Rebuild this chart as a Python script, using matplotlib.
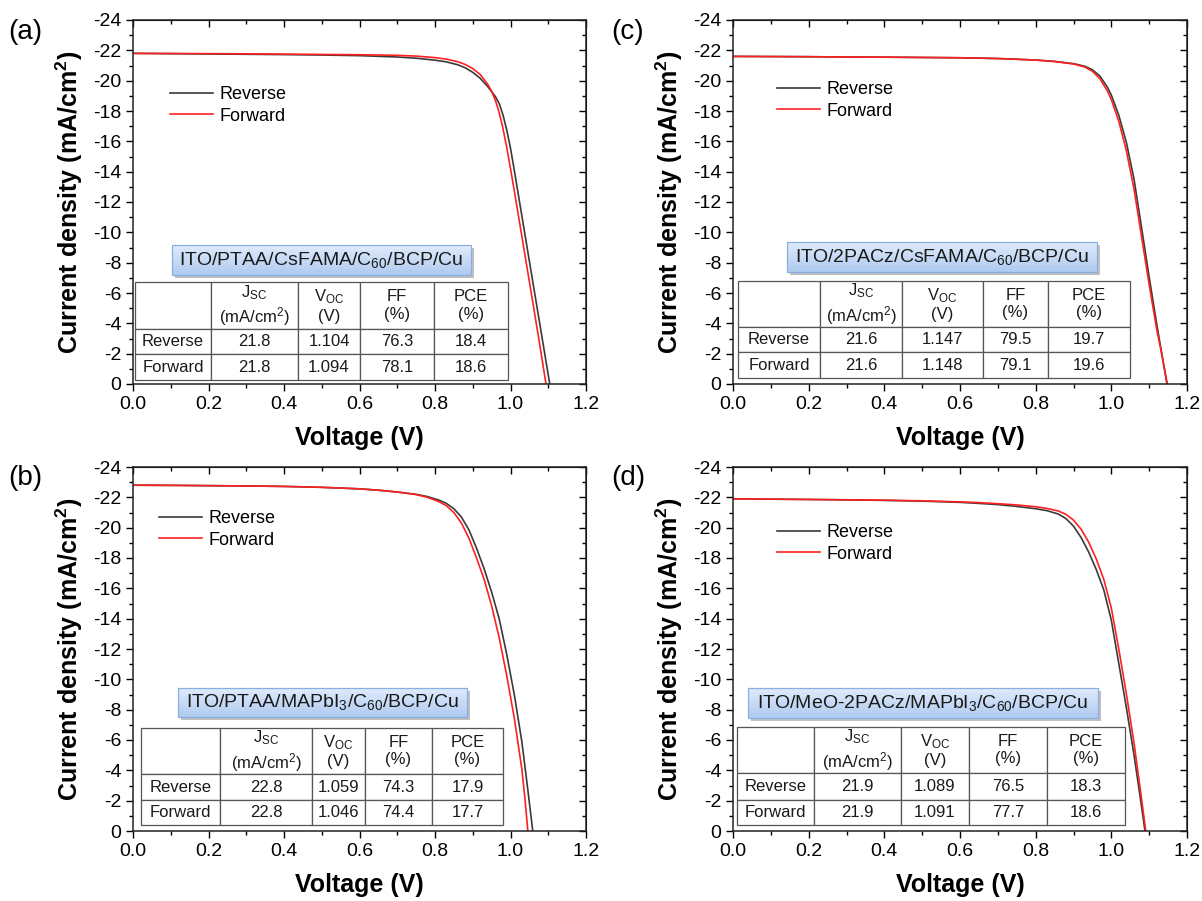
import matplotlib
matplotlib.use('Agg')
import matplotlib.pyplot as plt
import matplotlib.patheffects as pe
from matplotlib.patches import Rectangle
from matplotlib.ticker import MultipleLocator
from matplotlib.colors import to_rgb

plt.rcParams['font.family'] = ['Liberation Sans', 'DejaVu Sans']
plt.rcParams['mathtext.default'] = 'regular'
plt.rcParams['axes.unicode_minus'] = False

# ---- data (V in volts, J in mA/cm2) ----
# (a) ITO/PTAA/CsFAMA
v_a_rev = [0, 0.1, 0.2, 0.3, 0.4, 0.5, 0.6, 0.7, 0.75, 0.8, 0.83, 0.86, 0.88, 0.9, 0.92, 0.94,
           0.96, 0.97, 0.98, 0.99, 1.0, 1.01, 1.02, 1.04, 1.06, 1.08, 1.09, 1.104]
j_a_rev = [-21.8, -21.78, -21.76, -21.74, -21.72, -21.69, -21.65, -21.56, -21.48, -21.35, -21.24,
           -21.05, -20.85, -20.55, -20.15, -19.6, -18.95, -18.5, -17.75, -16.75, -15.55, -14.1,
           -12.6, -9.6, -6.6, -3.6, -2.1, 0]
v_a_fwd = [0, 0.1, 0.2, 0.3, 0.4, 0.5, 0.6, 0.7, 0.75, 0.8, 0.83, 0.86, 0.88, 0.9, 0.92, 0.94,
           0.95, 0.96, 0.97, 0.98, 0.99, 1.0, 1.01, 1.02, 1.04, 1.06, 1.08, 1.094]
j_a_fwd = [-21.8, -21.79, -21.78, -21.77, -21.75, -21.73, -21.71, -21.67, -21.62, -21.52, -21.42,
           -21.25, -21.07, -20.8, -20.4, -19.75, -19.3, -18.7, -17.9, -16.85, -15.6, -14.2,
           -12.75, -11.25, -8.25, -5.25, -2.2, 0]

# (b) ITO/PTAA/MAPbI3
v_b_rev = [0, 0.1, 0.2, 0.3, 0.4, 0.5, 0.6, 0.65, 0.7, 0.75, 0.78, 0.81, 0.83, 0.85, 0.87, 0.89,
           0.91, 0.93, 0.95, 0.97, 0.99, 1.01, 1.03, 1.045, 1.059]
j_b_rev = [-22.8, -22.79, -22.77, -22.75, -22.72, -22.66, -22.56, -22.47, -22.35, -22.2, -22.05,
           -21.82, -21.6, -21.25, -20.7, -19.85, -18.65, -17.3, -15.75, -14.0, -11.65, -9.0,
           -5.9, -2.9, 0]
v_b_fwd = [0, 0.1, 0.2, 0.3, 0.4, 0.5, 0.6, 0.65, 0.7, 0.75, 0.78, 0.81, 0.83, 0.85, 0.87, 0.89,
           0.91, 0.93, 0.95, 0.97, 0.99, 1.01, 1.03, 1.038, 1.046]
j_b_fwd = [-22.8, -22.79, -22.77, -22.75, -22.72, -22.66, -22.56, -22.47, -22.35, -22.18, -22.0,
           -21.72, -21.45, -21.0, -20.3, -19.3, -18.0, -16.6, -14.85, -12.75, -10.25, -7.45,
           -4.1, -2.2, 0]

# (c) ITO/2PACz/CsFAMA
v_c_rev = [0, 0.1, 0.2, 0.3, 0.4, 0.5, 0.6, 0.7, 0.8, 0.85, 0.9, 0.93, 0.95, 0.97, 0.99, 1.0,
           1.02, 1.04, 1.06, 1.08, 1.1, 1.12, 1.147]
j_c_rev = [-21.6, -21.59, -21.58, -21.56, -21.55, -21.53, -21.51, -21.46, -21.36, -21.27, -21.12,
           -20.95, -20.72, -20.3, -19.55, -19.05, -17.7, -15.9, -13.5, -10.3, -7.05, -3.95, 0]
v_c_fwd = [0, 0.1, 0.2, 0.3, 0.4, 0.5, 0.6, 0.7, 0.8, 0.85, 0.9, 0.93, 0.95, 0.97, 0.99, 1.0,
           1.02, 1.04, 1.06, 1.08, 1.1, 1.12, 1.135, 1.148]
j_c_fwd = [-21.6, -21.59, -21.58, -21.56, -21.55, -21.53, -21.51, -21.46, -21.36, -21.26, -21.1,
           -20.9, -20.62, -20.12, -19.3, -18.75, -17.3, -15.35, -12.85, -9.7, -6.55, -3.6, -1.75, 0]

# (d) ITO/MeO-2PACz/MAPbI3
v_d_rev = [0, 0.1, 0.2, 0.3, 0.4, 0.5, 0.6, 0.65, 0.7, 0.75, 0.8, 0.83, 0.86, 0.88, 0.9, 0.92,
           0.94, 0.96, 0.98, 1.0, 1.02, 1.04, 1.06, 1.075, 1.089]
j_d_rev = [-21.9, -21.88, -21.86, -21.83, -21.8, -21.75, -21.67, -21.6, -21.52, -21.4, -21.25,
           -21.12, -20.9, -20.6, -20.1, -19.35, -18.4, -17.25, -15.9, -13.9, -11.0, -8.1, -5.0,
           -2.45, 0]
v_d_fwd = [0, 0.1, 0.2, 0.3, 0.4, 0.5, 0.6, 0.65, 0.7, 0.75, 0.8, 0.83, 0.86, 0.88, 0.9, 0.92,
           0.94, 0.96, 0.98, 1.0, 1.02, 1.04, 1.06, 1.08, 1.091]
j_d_fwd = [-21.9, -21.88, -21.86, -21.84, -21.81, -21.77, -21.7, -21.65, -21.58, -21.5, -21.38,
           -21.27, -21.1, -20.88, -20.5, -19.9, -19.05, -17.95, -16.6, -14.7, -11.95, -9.0, -5.8,
           -2.1, 0]

devices = ['ITO/PTAA/CsFAMA/C$_{60}$/BCP/Cu',
           'ITO/PTAA/MAPbI$_{3}$/C$_{60}$/BCP/Cu',
           'ITO/2PACz/CsFAMA/C$_{60}$/BCP/Cu',
           'ITO/MeO-2PACz/MAPbI$_{3}$/C$_{60}$/BCP/Cu']
letters = ['(a)', '(b)', '(c)', '(d)']
col_heads = ['', 'J$_{SC}$\n(mA/cm$^{2}$)', 'V$_{OC}$\n(V)', 'FF\n(%)', 'PCE\n(%)']
scans = ['Reverse', 'Forward']
tab_a = [['21.8', '1.104', '76.3', '18.4'], ['21.8', '1.094', '78.1', '18.6']]
tab_b = [['22.8', '1.059', '74.3', '17.9'], ['22.8', '1.046', '74.4', '17.7']]
tab_c = [['21.6', '1.147', '79.5', '19.7'], ['21.6', '1.148', '79.1', '19.6']]
tab_d = [['21.9', '1.089', '76.5', '18.3'], ['21.9', '1.091', '77.7', '18.6']]

# ---- layout (pixels of the 1202x901 picture) ----
W, H = 1202, 901
panels = [
    dict(box=(133, 20, 586, 384), rev=(v_a_rev, j_a_rev), fwd=(v_a_fwd, j_a_fwd), tab=tab_a,
         title=devices[0], letter=letters[0], letpos=(25, 32),
         tcols=[135, 211, 298, 360, 434, 508], trows=[282, 329, 354, 380],
         tbox=(172, 245, 471, 275), leg=(170, 86)),
    dict(box=(133, 467, 586, 831), rev=(v_b_rev, j_b_rev), fwd=(v_b_fwd, j_b_fwd), tab=tab_b,
         title=devices[1], letter=letters[1], letpos=(25, 478),
         tcols=[141, 220, 312, 365, 432, 503], trows=[728, 774, 800, 825],
         tbox=(178, 688, 467, 717), leg=(159, 510)),
    dict(box=(733, 20, 1187, 384), rev=(v_c_rev, j_c_rev), fwd=(v_c_fwd, j_c_fwd), tab=tab_c,
         title=devices[2], letter=letters[2], letpos=(628, 32),
         tcols=[738, 820, 902, 983, 1048, 1130], trows=[281, 327, 352, 378],
         tbox=(787, 242, 1097, 272), leg=(777, 81)),
    dict(box=(733, 467, 1187, 831), rev=(v_d_rev, j_d_rev), fwd=(v_d_fwd, j_d_fwd), tab=tab_d,
         title=devices[3], letter=letters[3], letpos=(628, 478),
         tcols=[737, 814, 901, 969, 1047, 1125], trows=[727, 773, 800, 825],
         tbox=(748, 688, 1098, 718), leg=(777, 524)),
]

fig = plt.figure(figsize=(W / 100, H / 100), dpi=100)


def ax_xy(box, X, Y):
    l, t, r, b = box
    return (X - l) / (r - l), (b - Y) / (b - t)


for p in panels:
    l, t, r, b = p['box']
    ax = fig.add_axes([l / W, 1 - b / H, (r - l) / W, (b - t) / H])
    ln1, = ax.plot(*p['rev'], color='#3a3a3a', lw=1.2, label='Reverse')
    ln2, = ax.plot(*p['fwd'], color='#ff2020', lw=1.2, label='Forward')
    ax.set_xlim(0, 1.2)
    ax.set_ylim(0, -24)
    ax.xaxis.set_major_locator(MultipleLocator(0.2))
    ax.xaxis.set_minor_locator(MultipleLocator(0.1))
    ax.yaxis.set_major_locator(MultipleLocator(2))
    ax.yaxis.set_minor_locator(MultipleLocator(1))
    ax.tick_params(which='both', direction='out', labelsize=14, width=1)
    ax.tick_params(which='major', length=5)
    ax.tick_params(which='minor', length=3)
    for s in ax.spines.values():
        s.set_linewidth(1.1)
        s.set_color('#222222')

    sx = ax.secondary_xaxis('top')
    sx.xaxis.set_major_locator(MultipleLocator(0.2))
    sx.xaxis.set_minor_locator(MultipleLocator(0.1))
    sx.tick_params(which='both', direction='in', labeltop=False, width=1)
    sx.tick_params(which='major', length=5)
    sx.tick_params(which='minor', length=3)
    sy = ax.secondary_yaxis('right')
    sy.yaxis.set_major_locator(MultipleLocator(2))
    sy.yaxis.set_minor_locator(MultipleLocator(1))
    sy.tick_params(which='both', direction='in', labelright=False, width=1)
    sy.tick_params(which='major', length=5)
    sy.tick_params(which='minor', length=3)

    ax.set_xlabel('Voltage (V)', fontsize=18, fontweight='bold')
    ax.set_ylabel('Current density (mA/cm$^{2}$)', fontsize=18, fontweight='bold')
    ax.xaxis.set_label_coords(0.5, -0.115)
    ax.yaxis.set_label_coords(-0.105, 0.5)

    lx, ly = ax_xy(p['box'], *p['leg'])
    ax.legend(handles=[ln1, ln2], loc='upper left', bbox_to_anchor=(lx, ly), frameon=False,
              fontsize=13, borderpad=0, borderaxespad=0, handlelength=2.4,
              handletextpad=0.35, labelspacing=0.25)

    fig.text(p['letpos'][0] / W, 1 - p['letpos'][1] / H, p['letter'], fontsize=20,
             ha='center', va='center')

    # device stack label, blue box with a soft shadow
    x0, y0 = ax_xy(p['box'], p['tbox'][0], p['tbox'][3])
    x1, y1 = ax_xy(p['box'], p['tbox'][2], p['tbox'][1])
    top_c, bot_c = to_rgb('#dfeafb'), to_rgb('#aecaef')
    shadow = Rectangle((x0, y0), x1 - x0, y1 - y0, transform=ax.transAxes, fc='white',
                       ec='none', zorder=4,
                       path_effects=[pe.SimplePatchShadow(offset=(2, -2), alpha=0.35)])
    ax.add_patch(shadow)
    n = 24
    for k in range(n):
        f = k / (n - 1)
        c = tuple(bot_c[i] * (1 - f) + top_c[i] * f for i in range(3))
        ax.add_patch(Rectangle((x0, y0 + (y1 - y0) * k / n), x1 - x0, (y1 - y0) / n,
                               transform=ax.transAxes, fc=c, ec='none', zorder=5))
    ax.add_patch(Rectangle((x0, y0), x1 - x0, y1 - y0, transform=ax.transAxes,
                           fc='none', ec='#8aaee0', lw=0.9, zorder=6))
    ax.text((x0 + x1) / 2, (y0 + y1) / 2, p['title'], transform=ax.transAxes,
            ha='center', va='center', fontsize=14, color='#1a1a1a', zorder=7)

    # parameter table
    tc, tr = p['tcols'], p['trows']
    cells = [col_heads] + [[scans[i]] + p['tab'][i] for i in range(2)]
    bx0, by0 = ax_xy(p['box'], tc[0], tr[-1])
    bx1, by1 = ax_xy(p['box'], tc[-1], tr[0])
    widths = [tc[i + 1] - tc[i] for i in range(5)]
    heights = [tr[i + 1] - tr[i] for i in range(3)]
    tbl = ax.table(cellText=cells, cellLoc='center', colWidths=widths,
                   bbox=[bx0, by0, bx1 - bx0, by1 - by0], zorder=5)
    tbl.auto_set_font_size(False)
    for (ri, ci), cell in tbl.get_celld().items():
        cell.set_height(heights[ri])
        cell.set_linewidth(0.9)
        cell.set_edgecolor('#555555')
        cell.get_text().set_fontsize(12)
        cell.get_text().set_color('#1a1a1a')

fig.savefig('out.png', dpi=100)
